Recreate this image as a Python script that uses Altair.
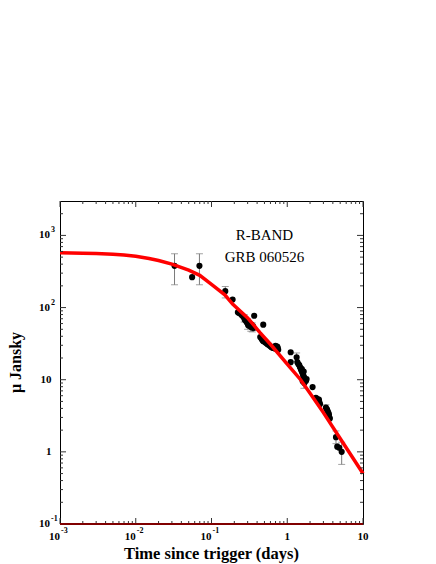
import altair as alt
import pandas as pd

# ---------------- data ----------------
obs_t = [0.0325, 0.0555, 0.0693, 0.152, 0.190,
         0.223, 0.232, 0.242, 0.250, 0.260, 0.270, 0.275, 0.285, 0.290, 0.300,
         0.305, 0.315, 0.320, 0.330, 0.338, 0.345, 0.355, 0.360, 0.366, 0.482,
         0.440, 0.458, 0.470, 0.480, 0.492, 0.510, 0.533, 0.550, 0.578, 0.600,
         0.621, 0.650, 0.687, 0.700, 0.720, 0.738, 0.750, 0.760,
         1.11, 1.11, 1.33, 1.36, 1.40, 1.44, 1.47, 1.50, 1.52, 1.55, 1.56, 1.58,
         1.60, 1.61, 1.63, 1.65, 1.66, 1.68, 1.70, 1.73, 1.77, 1.80,
         2.16, 2.39, 2.50, 2.57, 2.62, 2.65, 2.71,
         3.24, 3.35, 3.40, 3.48, 3.55, 3.59, 3.65,
         4.40, 4.57, 4.86, 5.23]
obs_f = [379, 264, 379, 169, 129,
         86, 84, 82, 79, 76, 72, 68, 66, 63, 60,
         57, 62, 56, 54, 58, 53, 55, 52, 77, 58,
         39, 37, 35.5, 34.5, 34, 33, 32, 31, 30, 29,
         28.2, 27.5, 27, 29.5, 28.5, 28.8, 27.5, 26,
         24, 17.5, 20.5, 17.5, 16.5, 16, 15, 14.5, 13.8, 13.2, 14, 12.6,
         9.5, 12, 11.3, 13, 11, 9.0, 10.4, 10.0, 9.7, 10.2,
         7.9, 5.6, 5.4, 5.1, 5.3, 4.9, 4.6,
         4.1, 3.9, 3.7, 3.5, 3.3, 3.0, 2.9,
         1.6, 1.18, 1.14, 1.0]

err_t = [0.0325, 0.0693, 0.152, 0.270, 0.300, 0.330, 0.345, 1.33, 1.66, 3.24, 4.40, 5.23]
err_lo = [207, 207, 136, 63, 50, 47, 46, 17.8, 7.6, 3.6, 1.30, 0.67]
err_hi = [557, 557, 196, 80, 70, 62, 61, 23.5, 10.5, 4.5, 1.95, 1.36]

fit_t = [0.001, 0.002, 0.003, 0.005, 0.007, 0.01, 0.015, 0.02, 0.03, 0.05, 0.07,
         0.1, 0.15, 0.19, 0.3, 0.437, 0.6, 1.0, 1.5, 2.0, 3.0, 5.0, 7.0, 10.0]
fit_f = [575, 568, 560, 548, 535, 515, 480, 450, 400, 330, 280,
         210, 150, 112, 72, 45, 31, 16.5, 10, 6.5, 3.5, 1.53, 0.89, 0.5]

x_major = [0.001, 0.01, 0.1, 1, 10]
x_base = ["10", "10", "10", "1", "10"]
x_exp = ["-3", "-2", "-1", "", ""]
y_major = [0.1, 1, 10, 100, 1000]
y_base = ["10", "1", "10", "10", "10"]
y_exp = ["-1", "", "", "2", "3"]

x_minor = [k * 10.0 ** d for d in range(-3, 1) for k in range(2, 10)]
y_minor = [k * 10.0 ** d for d in range(-1, 4) for k in range(2, 10) if k * 10.0 ** d < 3000]

# ---------------- chart ----------------
W, H = 303, 323
FONT = "Liberation Serif"
xs = alt.Scale(type="log", domain=[0.001, 10])
ys = alt.Scale(type="log", domain=[0.1, 3000])

obs = pd.DataFrame({"t": obs_t, "f": obs_f})
err = pd.DataFrame({"t": err_t, "lo": err_lo, "hi": err_hi})
fit = pd.DataFrame({"t": fit_t, "f": fit_f})

X = lambda f: alt.X(f, type="quantitative", scale=xs, axis=None)
Y = lambda f: alt.Y(f, type="quantitative", scale=ys, axis=None)

GREY = "#7a7a7a"
bars = alt.Chart(err).mark_rule(color=GREY, strokeWidth=1).encode(
    x=X("t"), y=Y("lo"), y2="hi")
cap_lo = alt.Chart(err).mark_tick(orient="horizontal", size=7, thickness=1, color=GREY).encode(
    x=X("t"), y=Y("lo"))
cap_hi = alt.Chart(err).mark_tick(orient="horizontal", size=7, thickness=1, color=GREY).encode(
    x=X("t"), y=Y("hi"))
pts = alt.Chart(obs).mark_circle(size=38, color="black", opacity=1).encode(
    x=X("t"), y=Y("f"))
line = alt.Chart(fit).mark_line(color="#ff0000", strokeWidth=3.5).encode(
    x=X("t"), y=Y("f"))

# ticks (inward, on all four sides)
xmaj = pd.DataFrame({"v": x_major, "base": x_base, "exp": x_exp})
ymaj = pd.DataFrame({"v": y_major, "base": y_base, "exp": y_exp})
xmin = pd.DataFrame({"v": x_minor})
ymin = pd.DataFrame({"v": y_minor})
TC = "#333333"

def xticks(df, L):
    b = alt.Chart(df).mark_rule(color=TC, strokeWidth=1).encode(
        x=X("v"), y=alt.value(H), y2=alt.value(H - L))
    t = alt.Chart(df).mark_rule(color=TC, strokeWidth=1).encode(
        x=X("v"), y=alt.value(0), y2=alt.value(L))
    return [b, t]

def yticks(df, L):
    l = alt.Chart(df).mark_rule(color=TC, strokeWidth=1).encode(
        y=Y("v"), x=alt.value(0), x2=alt.value(L))
    r = alt.Chart(df).mark_rule(color=TC, strokeWidth=1).encode(
        y=Y("v"), x=alt.value(W), x2=alt.value(W - L))
    return [l, r]

ticks = xticks(xmaj, 6) + xticks(xmin, 3) + yticks(ymaj, 6) + yticks(ymin, 3)

bottom = alt.Chart(xmaj).mark_rule(color="#800000", strokeWidth=1.5).encode(
    x=alt.value(0), x2=alt.value(W), y=alt.value(H))

# tick labels
xe = xmaj[xmaj["exp"] != ""]
xp = xmaj[xmaj["exp"] == ""]
ye = ymaj[ymaj["exp"] != ""]
yp = ymaj[ymaj["exp"] == ""]
LB = dict(font=FONT, fontWeight="bold", fontSize=11, baseline="middle")
SB = dict(font=FONT, fontWeight="bold", fontSize=8, baseline="middle")

xl1 = alt.Chart(xe).mark_text(align="right", dx=0, **LB).encode(
    x=X("v"), y=alt.value(H + 13), text="base:N")
xl2 = alt.Chart(xe).mark_text(align="left", dx=1, **SB).encode(
    x=X("v"), y=alt.value(H + 6.5), text="exp:N")
xl3 = alt.Chart(xp).mark_text(align="center", **LB).encode(
    x=X("v"), y=alt.value(H + 13), text="base:N")
yl1 = alt.Chart(ye).mark_text(align="right", **LB).encode(
    y=Y("v"), x=alt.value(-10), text="base:N")
yl2 = alt.Chart(ye).mark_text(align="left", dy=-5, **SB).encode(
    y=Y("v"), x=alt.value(-9), text="exp:N")
yl3 = alt.Chart(yp).mark_text(align="right", **LB).encode(
    y=Y("v"), x=alt.value(-8.5), text="base:N")

# titles and annotation
ann = pd.DataFrame({"t": [0.5, 0.5], "f": [1000, 500], "s": ["R-BAND", "GRB 060526"]})
annot = alt.Chart(ann).mark_text(font=FONT, fontSize=15, align="center", baseline="middle").encode(
    x=X("t"), y=Y("f"), text="s:N")
titles = pd.DataFrame({"s": ["Time since trigger (days)"]})
xtitle = alt.Chart(titles).mark_text(font=FONT, fontWeight="bold", fontSize=16.5,
                                     align="center", baseline="middle").encode(
    x=alt.value(W / 2), y=alt.value(H + 29.5), text="s:N")
ytit = pd.DataFrame({"s": ["\u03bc Jansky"]})
ytitle = alt.Chart(ytit).mark_text(font=FONT, fontWeight="bold", fontSize=16, angle=270,
                                   align="center", baseline="middle").encode(
    x=alt.value(-44), y=alt.value(H / 2), text="s:N")

chart = alt.layer(
    bars, cap_lo, cap_hi, pts, line, *ticks, bottom,
    xl1, xl2, xl3, yl1, yl2, yl3, annot, xtitle, ytitle
).properties(
    width=W, height=H,
    autosize=alt.AutoSizeParams(type="none"),
    padding={"left": 52, "top": 193, "right": 60, "bottom": 43},
).configure_view(stroke="black", strokeWidth=1)

chart.save("out.html", embed_options={"renderer": "svg", "actions": False})
